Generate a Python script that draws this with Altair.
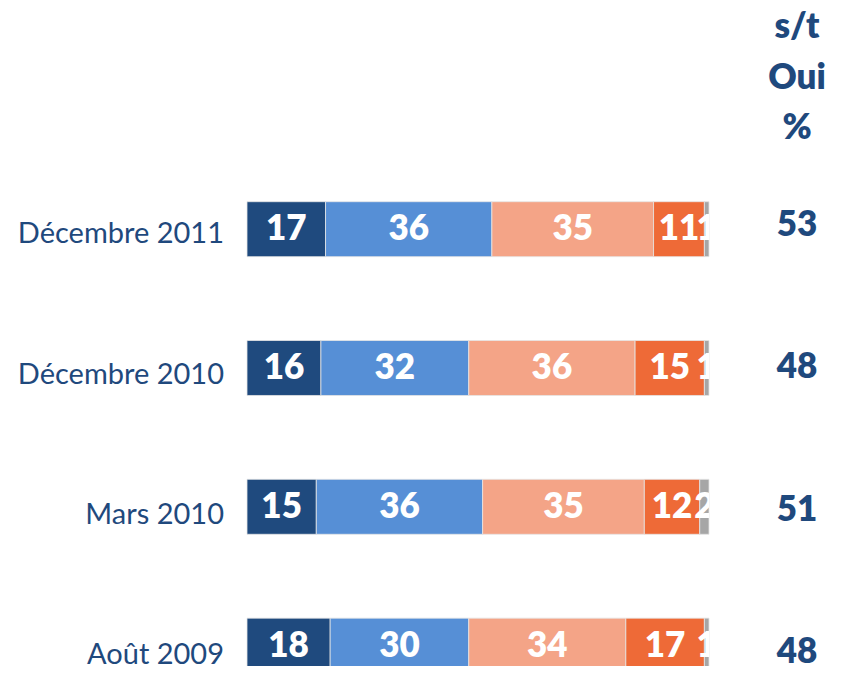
import altair as alt
import pandas as pd

periods = ["Décembre 2011", "Décembre 2010", "Mars 2010", "Août 2009"]
series = ["Tout à fait", "Plutôt", "Plutôt pas", "Pas du tout", "NSP"]
colors = ["#1F4A7E", "#568FD6", "#F4A487", "#EE6A37", "#A6A6A6"]
v_tout = [17, 16, 15, 18]
v_plutot = [36, 32, 36, 30]
v_plutot_pas = [35, 36, 35, 34]
v_pas_du_tout = [11, 15, 12, 17]
v_nsp = [1, 1, 2, 1]
st_oui = [53, 48, 51, 48]
header_lines = ["s/t", "Oui", "%"]

rows = []
for i, (name, vals) in enumerate(zip(series, [v_tout, v_plutot, v_plutot_pas, v_pas_du_tout, v_nsp])):
    for p, v in zip(periods, vals):
        rows.append({"period": p, "series": name, "order": i, "value": v})
df = pd.DataFrame(rows)

FONT = "Lato"
TXT = "#1F497D"

xsc = alt.Scale(domain=[0, 100], nice=False, zero=True)
ybar = alt.Y("period:N", sort=periods, axis=None,
             scale=alt.Scale(type="band", range=[193.7, 665.1], paddingInner=0.604, paddingOuter=0))

base = alt.Chart(df).transform_stack(
    stack="value", as_=["x0", "x1"], groupby=["period"],
    sort=[alt.SortField("order", order="ascending")]
).transform_calculate(mid="(datum.x0 + datum.x1) / 2")

bars = base.mark_bar(stroke="#e6e6e6", strokeWidth=0.8).encode(
    x=alt.X("x0:Q", scale=xsc, axis=None),
    x2="x1:Q",
    y=ybar,
    color=alt.Color("series:N", scale=alt.Scale(domain=series, range=colors), legend=None),
)

seg_text = base.mark_text(font=FONT, fontWeight=800, fontSize=35, color="white",
                          baseline="middle", align="center", clip=True).encode(
    x=alt.X("mid:Q", scale=xsc, axis=None),
    y=ybar,
    text="value:Q",
)

cat_df = pd.DataFrame({"period": periods})
cat_text = alt.Chart(cat_df).mark_text(font=FONT, fontSize=29, color=TXT,
                                       align="right", baseline="middle").encode(
    x=alt.value(-23),
    y=alt.Y("period:N", sort=periods, axis=None,
            scale=alt.Scale(type="point", range=[226.3, 647.0], padding=0)),
    text="period:N",
)

oui_df = pd.DataFrame({"period": periods, "oui": st_oui})
oui_text = alt.Chart(oui_df).mark_text(font=FONT, fontSize=35, fontWeight=800, color=TXT,
                                       align="center", baseline="middle").encode(
    x=alt.value(550),
    y=alt.Y("period:N", sort=periods, axis=None,
            scale=alt.Scale(type="point", range=[216.5, 644.0], padding=0)),
    text="oui:Q",
)

head_df = pd.DataFrame({"h": ["\n".join(header_lines)]})
head_text = alt.Chart(head_df).mark_text(font=FONT, fontSize=35, fontWeight=800, color=TXT,
                                         align="center", baseline="alphabetic",
                                         lineBreak="\n", lineHeight=50.5).encode(
    x=alt.value(550),
    y=alt.value(30),
    text="h:N",
)

chart = alt.layer(bars, seg_text, cat_text, oui_text, head_text).resolve_scale(
    y="independent"
).properties(
    width=462,
    height=658,
    autosize=alt.AutoSizeParams(type="none"),
    padding={"left": 239, "top": 0, "right": 127, "bottom": 0},
).configure_view(stroke=None)

chart.save("out.html", embed_options={"renderer": "svg", "actions": False})
